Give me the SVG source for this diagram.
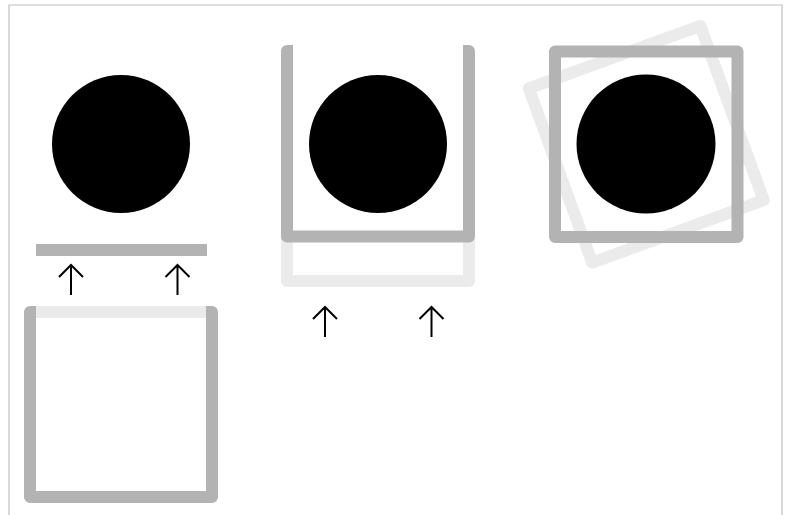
<svg xmlns="http://www.w3.org/2000/svg" width="790" height="515" viewBox="0 0 790 515">
<defs>
<style>
.dark{fill:none;stroke:#b3b3b3;stroke-width:12;stroke-linejoin:round;stroke-linecap:butt}
.light{fill:none;stroke:#ebebeb;stroke-width:12;stroke-linejoin:round;stroke-linecap:butt}
.ball{fill:#000}
.arrow{fill:none;stroke:#000;stroke-width:2}
.frame{fill:none;stroke:#c0c0c0;stroke-width:1.2}
</style>
</defs>
<rect width="790" height="515" fill="#fff"/>
<path class="frame" d="M9,516 V5 H782 V516"/>
<g id="panel1">
  <circle class="ball" cx="121" cy="144" r="69"/>
  <line class="dark" x1="36" y1="250" x2="207" y2="250"/>
  <g id="box1">
    <rect class="dark" x="30" y="312" width="182" height="185"/>
    <line class="light" x1="36" y1="312" x2="206" y2="312"/>
  </g>
</g>
<g id="panel2">
  <path class="light" d="M293,96 H287 V281 H469 V96 H463"/>
  <path class="dark" d="M293,51 H287 V236.5 H469 V51 H463"/>
  <circle class="ball" cx="378" cy="144" r="69"/>
</g>
<g id="panel3">
  <rect class="light" x="555" y="51.5" width="182.5" height="185.5" transform="rotate(-20 646.25 144.25)"/>
  <rect class="dark" x="555" y="51.5" width="182.5" height="185.5"/>
  <circle class="ball" cx="646" cy="144" r="69.5"/>
</g>
<g id="connectors">
  <path class="arrow" d="M71,295 V265 M59,277 L71,265 L83,277"/>
  <path class="arrow" d="M177.5,295 V265 M165.5,277 L177.5,265 L189.5,277"/>
  <path class="arrow" d="M325,337 V307 M313,319 L325,307 L337,319"/>
  <path class="arrow" d="M431.5,337 V307 M419.5,319 L431.5,307 L443.5,319"/>
</g>
</svg>
